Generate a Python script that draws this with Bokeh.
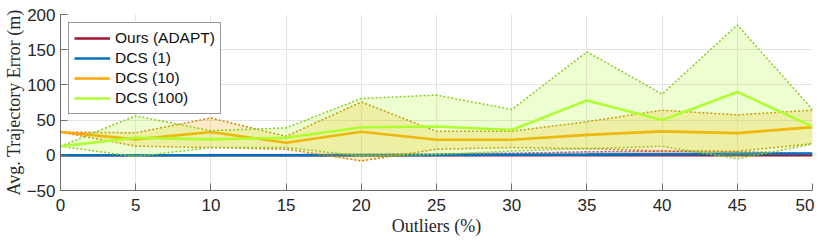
from bokeh.plotting import figure
from bokeh.models import Range1d, FixedTicker, Legend, LegendItem
from bokeh.embed import file_html
from bokeh.resources import INLINE

# ---- data ----
outliers = [0, 5, 10, 15, 20, 25, 30, 35, 40, 45, 50]

ours_mean = [0, 0, 0, 0, 0, 0, 0, 0, 0, 0, 0]
ours_low = [0, 0, 0, 0, 0, 0, 0, 0, 0, 0, 0]
ours_high = [0, 0.5, 1, 1, 1.5, 2, 3, 5, 6, 5, 3]

dcs1_mean = [0, 0, 0, 0, 0.3, 0.5, 0.8, 1, 1.5, 2, 2.5]
dcs1_low = [0, 0, 0, 0, 0.2, 0.4, 0.6, 0.8, 1.2, 1.6, 2]
dcs1_high = [0, 0, 0, 0, 0.4, 0.6, 1, 1.2, 1.8, 2.4, 3]

dcs10_mean = [33, 22.6, 33, 17.9, 33.5, 22, 22, 29, 34, 31.5, 40]
dcs10_low = [33, 13, 11, 8.7, -8, 8.6, 11, 9.5, 6.3, 5.8, 16.5]
dcs10_high = [33, 32, 53, 27, 75.7, 34, 34, 47.7, 64, 57.5, 64]

dcs100_mean = [12.8, 25, 22.6, 25, 39.8, 41, 36, 78, 50, 90, 40.7]
dcs100_low = [12.8, -2, 11, 11, -1, 1, 6, 9.5, 12.8, -5, 16]
dcs100_high = [12.8, 56, 35, 39, 80.7, 85.5, 65, 147, 87, 185, 65]

x_ticks = [0, 5, 10, 15, 20, 25, 30, 35, 40, 45, 50]
y_ticks = [-50, 0, 50, 100, 150, 200]

labels = ["Ours (ADAPT)", "DCS (1)", "DCS (10)", "DCS (100)"]
line_colors = ["#A2142F", "#0072BD", "#FFA500", "#ADFF2F"]
edge_colors = ["#B4505F", "#3C8CC8", "#CC8400", "#8ACC26"]

series = [
    (ours_mean, ours_low, ours_high),
    (dcs1_mean, dcs1_low, dcs1_high),
    (dcs10_mean, dcs10_low, dcs10_high),
    (dcs100_mean, dcs100_low, dcs100_high),
]

p = figure(width=814, height=238, output_backend="svg", toolbar_location=None,
           x_range=Range1d(0, 50), y_range=Range1d(-50, 200),
           min_border_left=50, min_border_right=2, min_border_top=14,
           min_border_bottom=40)
p.outline_line_color = None
p.background_fill_color = "white"

items = []
for (m, lo, hi), lc, ec, lab in zip(series, line_colors, edge_colors, labels):
    p.varea(x=outliers, y1=lo, y2=hi, fill_color=lc, fill_alpha=0.22)
    p.line(outliers, lo, line_color=ec, line_width=1.5, line_dash="2 2")
    p.line(outliers, hi, line_color=ec, line_width=1.5, line_dash="2 2")
    r = p.line(outliers, m, line_color=lc, line_width=2.6)
    items.append(LegendItem(label=lab, renderers=[r]))

legend = Legend(items=items, location="top_left", margin=8, padding=5,
                spacing=0, label_height=20, glyph_height=20, glyph_width=36,
                label_standoff=5, label_text_font="Liberation Sans",
                label_text_font_size="15.5px", label_text_color="#111111",
                border_line_color="#333333", border_line_width=1,
                background_fill_color="white", background_fill_alpha=1)
p.add_layout(legend, "center")

for ax in (p.xaxis[0], p.yaxis[0]):
    ax.axis_line_color = "#6e6e6e"
    ax.major_tick_line_color = "#6e6e6e"
    ax.major_tick_in = 7
    ax.major_tick_out = 0
    ax.minor_tick_line_color = None
    ax.major_label_text_font = "Liberation Sans"
    ax.major_label_text_font_size = "17px"
    ax.major_label_text_color = "#262626"
    ax.axis_label_text_font = "Liberation Serif"
    ax.axis_label_text_font_size = "18px"
    ax.axis_label_text_font_style = "normal"
    ax.axis_label_text_color = "#262626"

p.xaxis[0].ticker = FixedTicker(ticks=x_ticks)
p.yaxis[0].ticker = FixedTicker(ticks=y_ticks)
p.xaxis[0].axis_label = "Outliers (%)"
p.yaxis[0].axis_label = "Avg. Trajectory Error (m)"
p.xaxis[0].major_label_standoff = 8
p.xaxis[0].axis_label_standoff = 2
p.yaxis[0].major_label_standoff = 5
p.yaxis[0].axis_label_standoff = 0

p.xgrid.grid_line_color = "#e3e3e3"
p.ygrid.grid_line_color = "#e3e3e3"
p.xgrid.ticker = FixedTicker(ticks=x_ticks)
p.ygrid.ticker = FixedTicker(ticks=y_ticks)

open("out.html", "w").write(file_html(p, INLINE))
